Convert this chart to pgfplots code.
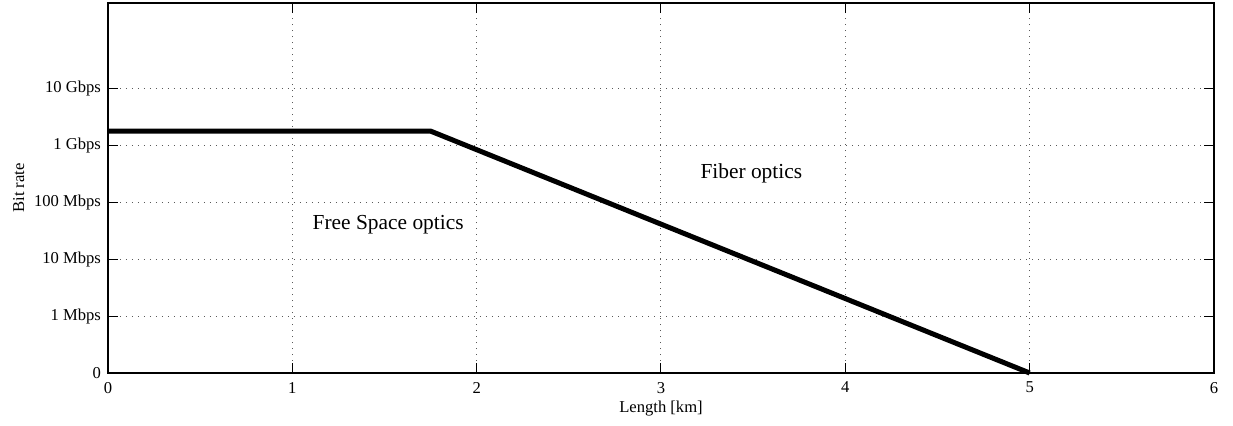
\documentclass[border=0pt]{standalone}
\usepackage{fontspec}
\setmainfont{Liberation Serif}
\usepackage{pgfplots}
\pgfplotsset{compat=1.18}
\begin{document}
\begin{tikzpicture}
\useasboundingbox (-54pt,-26pt) rectangle (562.5pt,186.5pt);
\begin{axis}[
  at={(0,0)}, anchor=south west,
  scale only axis,
  width=553pt, height=185pt,
  xmin=0, xmax=6, ymin=0, ymax=6.5,
  xtick={0,1,2,3,4,5,6},
  ytick={0,1,2,3,4,5},
  yticklabels={0,1 Mbps,10 Mbps,100 Mbps,1 Gbps,10 Gbps},
  /pgf/number format/assume math mode=true,
  tick align=inside,
  major tick length=5pt,
  tick style={black, line width=0.5pt},
  axis line style={line width=0.6pt},
  grid=major,
  grid style={dash pattern=on 0.5pt off 2.5pt, black!65, line width=0.5pt},
  ticklabel style={font=\fontsize{8.3}{9}\selectfont},
  xticklabel style={yshift=-1pt},
  xlabel={Length [km]},
  ylabel={Bit rate},
  label style={font=\fontsize{8.3}{9}\selectfont},
  xlabel style={yshift=3pt},
  ylabel style={yshift=-2pt},
  clip=false,
]
\addplot[black, line width=2.5pt] coordinates {(0,4.25) (1.75,4.25) (5,0)};
\node[font=\fontsize{10.7}{12}\selectfont] at (axis cs:1.52,2.6) {Free Space optics};
\node[font=\fontsize{10.7}{12}\selectfont] at (axis cs:3.49,3.5) {Fiber optics};
\end{axis}
\end{tikzpicture}
\end{document}
